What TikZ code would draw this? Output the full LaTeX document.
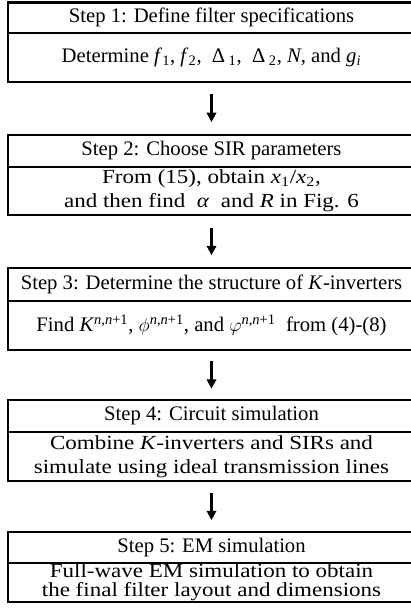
\documentclass[tikz,border=0pt]{standalone}
\usepackage{fontspec}
\setmainfont{Liberation Serif}
\newfontfamily\widefont[FakeStretch=1.15]{Liberation Serif}
\newcommand\tightlines{\lineskiplimit=-30pt\relax\lineskip=0pt\relax}
\usetikzlibrary{arrows.meta}
\tikzset{
  cell/.style={draw, line width=1.6pt, inner sep=0pt, minimum width=305.25pt},
  txt/.style={inner sep=0pt, align=center, font=\fontsize{15.5}{14.5}\selectfont},
  txtb/.style={inner sep=0pt, align=center,
    font=\widefont\fontsize{15}{18}\selectfont\tightlines},
  txtc/.style={inner sep=0pt, align=center,
    font=\widefont\fontsize{15}{14.25}\selectfont\tightlines},
  arr/.style={line width=2pt, -{Triangle[length=7pt,width=7pt]}},
}
\begin{document}
\begin{tikzpicture}[x=0.75pt,y=-0.75pt]
\useasboundingbox (0,0) rectangle (411,615);
\clip (0,0) rectangle (411,615);
% Step 1
\node[cell, minimum height=22.9pt] (t1) at (211.5,17.75) {};
\node[cell, minimum height=36.5pt] (b1) at (211.5,57.35) {};
\node[txt] (t1x) at (t1) {Step 1: Define filter specifications};
\node[txt] (b1x) at (b1) {Determine \textit{f}\textsubscript{1}, \textit{f}\textsubscript{2},\ \ Δ\,\textsubscript{1},\ \ Δ\,\textsubscript{2}, \textit{N}, and \textit{g}\textsubscript{\textit{i}}};
% Step 2
\node[cell, minimum height=24pt] (t2) at (211.5,150.7) {};
\node[cell, minimum height=36.2pt] (b2) at (211.5,190.85) {};
\node[txt] (t2x) at (t2) {Step 2: Choose SIR parameters};
\node[txtb] (b2x) at (b2) {From (15), obtain \textit{x}\textsubscript{1}/\textit{x}\textsubscript{2},\\ and then find\ \ \textit{α}\ \ and \textit{R} in Fig. 6};
% Step 3
\node[cell, minimum height=24.75pt] (t3) at (211.5,284.5) {};
\node[cell, minimum height=36.75pt] (b3) at (211.5,325.5) {};
\node[txt] (t3x) at (t3) {Step 3: Determine the structure of \textit{K}-inverters};
\node[txt] (b3x) at (b3) {Find \textit{K}\textsuperscript{\textit{n},\textit{n}+1}, $\phi$\textsuperscript{\textit{n},\textit{n}+1}, and $\varphi$\textsuperscript{\textit{n},\textit{n}+1}\ \ from (4)-(8)};
% Step 4
\node[cell, minimum height=24pt] (t4) at (211.5,416) {};
\node[cell, minimum height=36.75pt] (b4) at (211.5,456.5) {};
\node[txt] (t4x) at (t4) {Step 4: Circuit simulation};
\node[txtb] (b4x) at (b4) {Combine \textit{K}-inverters and SIRs and\\ simulate using ideal transmission lines};
% Step 5
\node[cell, minimum height=23.25pt] (t5) at (211.5,547.5) {};
\node[cell, minimum height=29.25pt] (b5) at (211.5,582.5) {};
\node[txt] (t5x) at (t5) {Step 5: EM simulation};
\node[txtc] (b5x) at (b5) {Full-wave EM simulation to obtain\\ the final filter layout and dimensions};
% arrows
\draw[arr, shorten <=8.7pt, shorten >=8.7pt] (b1.south) -- (t2.north);
\draw[arr, shorten <=8.8pt, shorten >=8.8pt] (b2.south) -- (t3.north);
\draw[arr, shorten <=7.7pt, shorten >=7.7pt] (b3.south) -- (t4.north);
\draw[arr, shorten <=8.1pt, shorten >=8.1pt] (b4.south) -- (t5.north);
\end{tikzpicture}
\end{document}
